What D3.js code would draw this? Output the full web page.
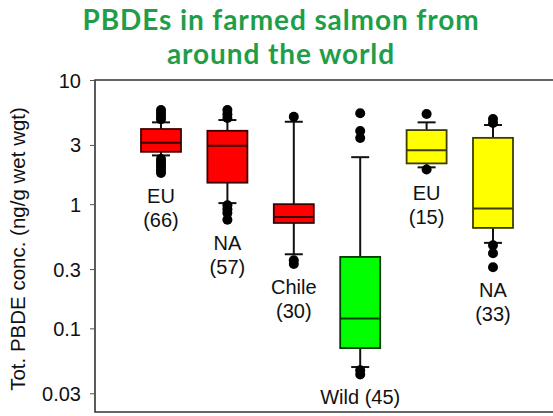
<!DOCTYPE html>
<html>
<head>
<meta charset="utf-8">
<script src="https://cdn.jsdelivr.net/npm/d3@7"></script>
<style>
  body { margin: 0; background: #fff; }
  text { font-family: "Liberation Sans", Arial, sans-serif; fill: #111; }
</style>
</head>
<body>
<svg id="chart" width="553" height="416"></svg>
<script>
// groups, left to right
const groups = ["EU farmed", "NA farmed", "Chile farmed", "Wild", "EU other", "NA other"];
const labelLines = [["EU", "(66)"], ["NA", "(57)"], ["Chile", "(30)"], ["Wild (45)"], ["EU", "(15)"], ["NA", "(33)"]];
const fills = ["#ff0000", "#ff0000", "#ff0000", "#00ff00", "#ffff00", "#ffff00"];

// box stats, ng/g wet wgt
const whiskerLow = [2.47, 1.02, 0.395, 0.0488, 1.98, 0.488];
const q1 = [2.64, 1.49, 0.706, 0.0693, 2.13, 0.644];
const medians = [3.12, 2.95, 0.79, 0.12, 2.72, 0.923];
const q3 = [4.03, 3.9, 1.0, 0.376, 3.95, 3.42];
const whiskerHigh = [4.56, 4.76, 4.61, 2.39, 4.56, 4.34];
const outliers = [
  [5.73, 5.42, 5.13, 4.84, 2.31, 2.2, 2.1, 1.99, 1.88, 1.78],
  [5.73, 5.3, 4.95, 0.98, 0.91, 0.85, 0.75],
  [5.06, 0.353, 0.33],
  [5.39, 3.88, 3.41, 0.0459, 0.0425],
  [5.32, 1.9],
  [4.85, 4.5, 0.467, 0.402, 0.31]
];

const yTicks = [0.03, 0.1, 0.3, 1, 3, 10];
const title = ["PBDEs in farmed salmon from", "around the world"];
const yTitle = "Tot. PBDE conc. (ng/g wet wgt)";

const svg = d3.select("#chart");
const mLeft = 95, mTop = 80, mBottom = 412, mRight = 570;

const y = d3.scaleLog().domain([0.0212, 10]).range([mBottom, mTop]);
const x = d3.scalePoint().domain(groups).range([161, 493]);
const boxW = 40, capW = 18;

// title
svg.append("text")
  .attr("x", 281).attr("y", 0)
  .attr("text-anchor", "middle")
  .style("font-family", "Lato, 'Open Sans', sans-serif")
  .style("font-weight", "bold")
  .style("font-size", "28px")
  .style("letter-spacing", "0.9px")
  .style("fill", "#1f9e4a")
  .selectAll("tspan").data(title).join("tspan")
  .attr("x", 281)
  .attr("y", (d, i) => 30 + i * 34)
  .text(d => d);

// frame
svg.append("path")
  .attr("d", `M${mRight},${mTop}H${mLeft}V${mBottom}H${mRight}`)
  .attr("fill", "none")
  .attr("stroke", "#333")
  .attr("stroke-width", 1.6);

// y axis
const yAxis = svg.append("g")
  .attr("transform", `translate(${mLeft},0)`)
  .call(d3.axisLeft(y).tickValues(yTicks).tickSize(5).tickPadding(9)
    .tickFormat(d => d3.format("~g")(d)));
yAxis.select(".domain").remove();
yAxis.selectAll("line").attr("stroke", "#555");
yAxis.selectAll("text")
  .style("font-family", "'Liberation Sans', Arial, sans-serif")
  .style("font-size", "20px")
  .attr("dy", "0.35em")
  .attr("fill", "#111");

svg.append("text")
  .attr("transform", `translate(25,${(mTop + mBottom) / 2 + 3}) rotate(-90)`)
  .attr("text-anchor", "middle")
  .style("font-size", "20.5px")
  .text(yTitle);

// boxes
const g = svg.append("g");
groups.forEach((key, i) => {
  const cx = x(key);
  const stroke = d3.rgb(fills[i]).darker(4).formatHex();
  const bg = g.append("g");

  bg.append("line")
    .attr("x1", cx).attr("x2", cx)
    .attr("y1", y(whiskerHigh[i])).attr("y2", y(whiskerLow[i]))
    .attr("stroke", "#111").attr("stroke-width", 2);
  [whiskerHigh[i], whiskerLow[i]].forEach(v => {
    bg.append("line")
      .attr("x1", cx - capW / 2).attr("x2", cx + capW / 2)
      .attr("y1", y(v)).attr("y2", y(v))
      .attr("stroke", "#111").attr("stroke-width", 2);
  });

  bg.append("rect")
    .attr("x", cx - boxW / 2).attr("width", boxW)
    .attr("y", y(q3[i])).attr("height", y(q1[i]) - y(q3[i]))
    .attr("fill", fills[i])
    .attr("stroke", stroke).attr("stroke-width", 1.8);
  bg.append("line")
    .attr("x1", cx - boxW / 2).attr("x2", cx + boxW / 2)
    .attr("y1", y(medians[i])).attr("y2", y(medians[i]))
    .attr("stroke", stroke).attr("stroke-width", 2);

  bg.selectAll("circle").data(outliers[i]).join("circle")
    .attr("cx", cx).attr("cy", d => y(d))
    .attr("r", 5).attr("fill", "#000");

  // label sits under the lowest point of the group
  const lowest = d3.min([whiskerLow[i], ...outliers[i]]);
  const ly = y(lowest) + 30;
  bg.append("text")
    .attr("text-anchor", "middle")
    .style("font-size", "20px")
    .selectAll("tspan").data(labelLines[i]).join("tspan")
    .attr("x", cx)
    .attr("y", (d, j) => ly + j * 24)
    .text(d => d);
});
</script>
</body>
</html>
